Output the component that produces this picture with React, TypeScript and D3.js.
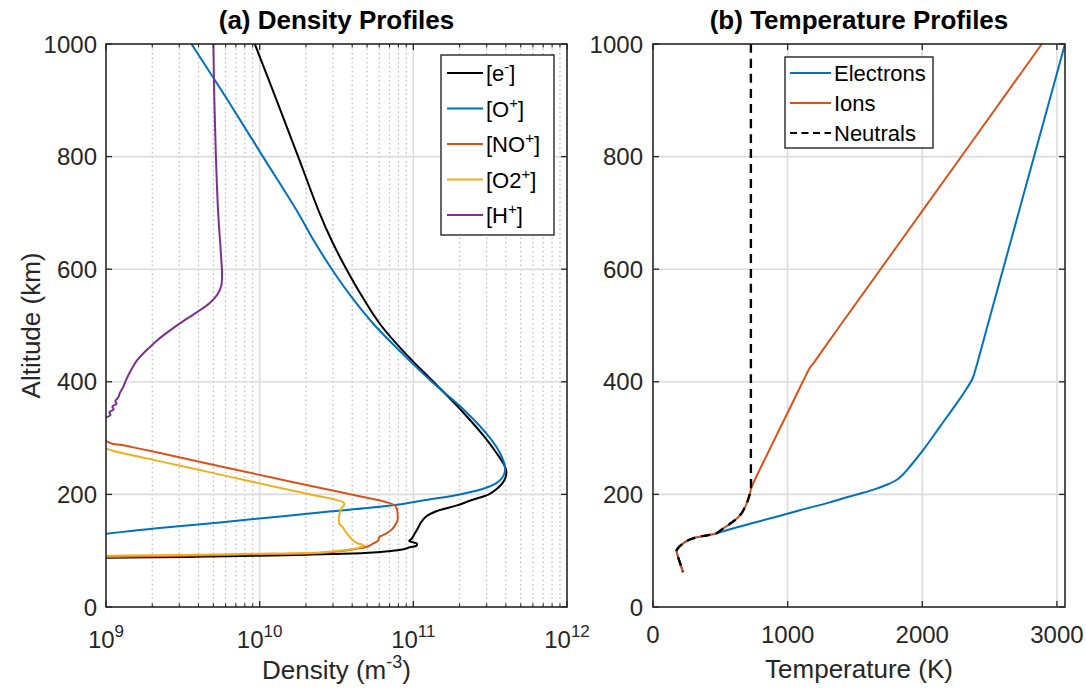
import React from 'react';
import * as d3 from 'd3';

// ---------- tick values ----------
const densityTicks = [1e9, 1e10, 1e11, 1e12];
const densityTickExp = ['9', '10', '11', '12'];
const altitudeTicks = [0, 200, 400, 600, 800, 1000];
const temperatureTicks = [0, 1000, 2000, 3000];

// ---------- (a) density profiles: altitude (km) / density (m^-3) ----------
const eAlt = [1000, 900, 800, 700, 650, 600, 550, 500, 450, 400, 350, 300, 270, 250, 240, 230, 220, 210, 200, 190, 180, 170, 160, 150, 140, 130, 122, 117, 113, 109, 106, 102, 99, 96, 93, 91, 89, 87.5];
const eDen = [9.3e9, 1.29e10, 1.78e10, 2.45e10, 2.95e10, 3.67e10, 4.68e10, 6.17e10, 8.9e10, 1.35e11, 2.04e11, 2.95e11, 3.55e11, 3.94e11, 4.03e11, 3.98e11, 3.8e11, 3.5e11, 3.1e11, 2.4e11, 1.9e11, 1.41e11, 1.2e11, 1.12e11, 1.07e11, 1.02e11, 9.8e10, 9.4e10, 1.05e11, 1.05e11, 9.5e10, 8.5e10, 6.9e10, 4.8e10, 2.0e10, 1.0e10, 3.5e9, 1.0e9];

const oAlt = [1000, 900, 800, 700, 650, 600, 550, 500, 450, 400, 350, 300, 270, 250, 240, 230, 220, 210, 200, 190, 181, 170, 160, 150, 140, 135, 130];
const oDen = [3.6e9, 6.2e9, 1.05e10, 1.78e10, 2.26e10, 2.95e10, 3.98e10, 5.62e10, 8.5e10, 1.32e11, 2.14e11, 3.16e11, 3.72e11, 3.94e11, 3.94e11, 3.8e11, 3.47e11, 2.85e11, 2.0e11, 1.2e11, 7.6e10, 2.95e10, 1.26e10, 5.5e9, 2.14e9, 1.45e9, 1.0e9];

const noAlt = [295, 290, 287, 284, 270, 250, 230, 210, 195, 187, 182, 175, 165, 155, 145, 137, 130, 124, 118, 113, 108, 103, 99, 96, 93.5, 91, 89.5, 88.5];
const noDen = [1.0e9, 1.1e9, 1.32e9, 1.48e9, 2.57e9, 5.5e9, 1.2e10, 2.63e10, 4.8e10, 6.5e10, 7.4e10, 7.8e10, 7.9e10, 7.9e10, 7.6e10, 7.2e10, 6.6e10, 6.0e10, 5.9e10, 5.5e10, 5.1e10, 4.2e10, 3.3e10, 2.4e10, 8.9e9, 3.2e9, 1.6e9, 1.0e9];

const o2Alt = [281, 279, 277, 260, 240, 220, 200, 190, 186, 182, 175, 165, 155, 148, 142, 135, 128, 120, 114, 109, 104, 100, 97, 94.5, 92.5, 91];
const o2Den = [1.0e9, 1.07e9, 1.12e9, 2.14e9, 4.6e9, 9.8e9, 2.14e10, 3.16e10, 3.5e10, 3.55e10, 3.4e10, 3.3e10, 3.27e10, 3.3e10, 3.47e10, 3.6e10, 3.76e10, 4.0e10, 4.27e10, 4.8e10, 4.2e10, 3.3e10, 2.5e10, 8.9e9, 3.2e9, 1.0e9];

const hAlt = [1000, 900, 800, 700, 620, 590, 570, 555, 540, 525, 510, 490, 474, 455, 439, 420, 403, 390, 380, 372, 366, 361, 356, 351, 346, 341, 337];
const hDen = [5.0e9, 5.07e9, 5.19e9, 5.37e9, 5.62e9, 5.69e9, 5.62e9, 5.31e9, 4.73e9, 3.98e9, 3.27e9, 2.57e9, 2.16e9, 1.82e9, 1.6e9, 1.45e9, 1.35e9, 1.29e9, 1.23e9, 1.2e9, 1.15e9, 1.17e9, 1.1e9, 1.12e9, 1.05e9, 1.07e9, 1.0e9];

// ---------- (b) temperature profiles: altitude (km) / temperature (K) ----------
const neutralAlt = [1000, 800, 600, 400, 250, 210, 204, 198, 190, 182, 175, 168, 163, 157, 150, 145, 140, 135, 131, 129, 127, 125, 122, 119, 116, 113, 110, 107, 104, 101, 98, 94, 89, 80, 70, 62];
const neutralTemp = [727, 727, 727, 727, 727, 727, 723, 716, 705, 692, 678, 662, 646, 622, 585, 555, 525, 495, 473, 440, 395, 349, 300, 265, 243, 225, 208, 194, 184, 176, 176, 180, 186, 198, 212, 223];

const ionAlt = [1000, 700, 500, 450, 435, 426, 415, 400, 350, 300, 250, 220, 210, 204, 198, 190, 182, 175, 168, 163, 157, 150, 145, 140, 135, 131, 129, 127, 125, 122, 119, 116, 113, 110, 107, 104, 101, 98, 94, 89, 80, 70, 62];
const ionTemp = [2888, 1990, 1390, 1242, 1198, 1168, 1143, 1112, 1010, 907, 805, 745, 727, 723, 716, 705, 692, 678, 662, 646, 622, 585, 555, 525, 495, 473, 440, 395, 349, 300, 265, 243, 225, 208, 194, 184, 176, 176, 180, 186, 198, 212, 223];

const electronAlt = [1000, 800, 600, 500, 450, 420, 405, 390, 360, 320, 280, 250, 235, 226, 218, 208, 195, 185, 172, 160, 150, 140, 134, 131, 129, 127, 125, 122, 119, 116, 113, 110, 107, 104, 101, 98, 94, 89, 80, 70, 62];
const electronTemp = [3060, 2830, 2600, 2485, 2428, 2393, 2372, 2335, 2250, 2130, 2010, 1910, 1855, 1811, 1745, 1633, 1440, 1300, 1091, 910, 755, 600, 515, 473, 440, 395, 349, 300, 265, 243, 225, 208, 194, 184, 176, 176, 180, 186, 198, 212, 223];

const FONT = '"Liberation Sans", Arial, Helvetica, sans-serif';
const AX = '#262626';
const C_BLUE = '#0072BD';
const C_ORANGE = '#D95319';
const C_YELLOW = '#EDB120';
const C_PURPLE = '#7E2F8E';

type Pt = { a: number; v: number };
const zipPts = (alt: number[], val: number[]): Pt[] => alt.map((a, i) => ({ a, v: val[i] }));

export default function App() {
  const W = 1086, H = 689;
  const top = 44, bottom = 607;
  const y = d3.scaleLinear().domain([0, 1000]).range([bottom, top]);
  const xL = d3.scaleLog().domain([1e9, 1e12]).range([106, 567]);
  const xR = d3.scaleLinear().domain([0, 3060]).range([653, 1065]);

  const lineL = d3.line<Pt>().x(d => xL(d.v)).y(d => y(d.a)).curve(d3.curveCatmullRom.alpha(0.5));
  const lineR = d3.line<Pt>().x(d => xR(d.v)).y(d => y(d.a)).curve(d3.curveCatmullRom.alpha(0.5));

  const minorL: number[] = [];
  for (let e = 9; e < 12; e++) for (let k = 2; k <= 9; k++) minorL.push(k * Math.pow(10, e));

  const densSeries = [
    { alt: eAlt, val: eDen, color: '#000000' },
    { alt: oAlt, val: oDen, color: C_BLUE },
    { alt: noAlt, val: noDen, color: C_ORANGE },
    { alt: o2Alt, val: o2Den, color: C_YELLOW },
    { alt: hAlt, val: hDen, color: C_PURPLE },
  ];
  const legendL = [
    { base: '[e', sup: '-', color: '#000000' },
    { base: '[O', sup: '+', color: C_BLUE },
    { base: '[NO', sup: '+', color: C_ORANGE },
    { base: '[O2', sup: '+', color: C_YELLOW },
    { base: '[H', sup: '+', color: C_PURPLE },
  ];
  const tempSeries = [
    { alt: electronAlt, val: electronTemp, color: C_BLUE, dash: undefined as string | undefined, w: 2 },
    { alt: ionAlt, val: ionTemp, color: C_ORANGE, dash: undefined as string | undefined, w: 2 },
    { alt: neutralAlt, val: neutralTemp, color: '#000000', dash: '9 6', w: 2.4 },
  ];
  const legendR = [
    { label: 'Electrons', color: C_BLUE, dash: undefined as string | undefined },
    { label: 'Ions', color: C_ORANGE, dash: undefined as string | undefined },
    { label: 'Neutrals', color: '#000000', dash: '7 4.5' },
  ];

  const [l0, l1] = xL.range();
  const [r0, r1] = xR.range();

  return (
    <svg width={W} height={H} style={{ position: 'absolute', left: 0, top: 0, display: 'block', background: '#fff' }} fontFamily={FONT}>
      <defs>
        <clipPath id="clipL"><rect x={l0} y={top} width={l1 - l0} height={bottom - top} /></clipPath>
        <clipPath id="clipR"><rect x={r0} y={top} width={r1 - r0} height={bottom - top} /></clipPath>
      </defs>

      {/* ---------- panel (a) ---------- */}
      <g>
        {minorL.map(v => (
          <line key={'mg' + v} x1={xL(v)} x2={xL(v)} y1={top} y2={bottom} stroke="#b8b8b8" strokeWidth={1.2} strokeDasharray="1.5 3" />
        ))}
        {densityTicks.slice(1, 3).map(v => (
          <line key={'gx' + v} x1={xL(v)} x2={xL(v)} y1={top} y2={bottom} stroke="#dcdcdc" strokeWidth={1.6} />
        ))}
        {altitudeTicks.slice(1, 5).map(v => (
          <line key={'gy' + v} x1={l0} x2={l1} y1={y(v)} y2={y(v)} stroke="#dcdcdc" strokeWidth={1.6} />
        ))}
        <g clipPath="url(#clipL)">
          {densSeries.map((s, i) => (
            <path key={i} d={lineL(zipPts(s.alt, s.val)) || ''} fill="none" stroke={s.color} strokeWidth={2} strokeLinejoin="round" />
          ))}
        </g>
        {/* ticks */}
        {densityTicks.map(v => (
          <g key={'tx' + v}>
            <line x1={xL(v)} x2={xL(v)} y1={bottom} y2={bottom - 6} stroke={AX} strokeWidth={1.3} />
            <line x1={xL(v)} x2={xL(v)} y1={top} y2={top + 6} stroke={AX} strokeWidth={1.3} />
          </g>
        ))}
        {minorL.map(v => (
          <g key={'mt' + v}>
            <line x1={xL(v)} x2={xL(v)} y1={bottom} y2={bottom - 3.5} stroke={AX} strokeWidth={1.1} />
            <line x1={xL(v)} x2={xL(v)} y1={top} y2={top + 3.5} stroke={AX} strokeWidth={1.1} />
          </g>
        ))}
        {altitudeTicks.map(v => (
          <g key={'ty' + v}>
            <line x1={l0} x2={l0 + 6} y1={y(v)} y2={y(v)} stroke={AX} strokeWidth={1.3} />
            <line x1={l1} x2={l1 - 6} y1={y(v)} y2={y(v)} stroke={AX} strokeWidth={1.3} />
            <text x={97} y={y(v) + 8.5} textAnchor="end" fontSize={24} fill={AX}>{v}</text>
          </g>
        ))}
        {densityTicks.map((v, i) => (
          <text key={'lx' + v} x={xL(v)} y={648} textAnchor="middle" fontSize={24} fill={AX}>
            10<tspan dy={-11} fontSize={17}>{densityTickExp[i]}</tspan>
          </text>
        ))}
        <rect x={l0} y={top} width={l1 - l0} height={bottom - top} fill="none" stroke={AX} strokeWidth={1.6} />
        <text x={(l0 + l1) / 2} y={29} textAnchor="middle" fontSize={26} fontWeight="bold" fill="#000">(a) Density Profiles</text>
        <text x={(l0 + l1) / 2} y={679} textAnchor="middle" fontSize={26} fill={AX}>
          Density (m<tspan dy={-11} fontSize={18}>-3</tspan><tspan dy={11}>)</tspan>
        </text>
        <text transform={`translate(40,${(top + bottom) / 2}) rotate(-90)`} textAnchor="middle" fontSize={26} fill={AX}>Altitude (km)</text>

        {/* legend */}
        <rect x={441} y={55} width={113} height={180} fill="#fff" stroke={AX} strokeWidth={1.4} />
        {legendL.map((e, i) => {
          const cy = 73 + i * 35.5;
          return (
            <g key={'lg' + i}>
              <line x1={447} x2={483} y1={cy} y2={cy} stroke={e.color} strokeWidth={2} />
              <text x={486} y={cy + 8} fontSize={22} fill="#000">
                {e.base}<tspan dy={-9} fontSize={15}>{e.sup}</tspan><tspan dy={9}>]</tspan>
              </text>
            </g>
          );
        })}
      </g>

      {/* ---------- panel (b) ---------- */}
      <g>
        {temperatureTicks.slice(1).map(v => (
          <line key={'gxr' + v} x1={xR(v)} x2={xR(v)} y1={top} y2={bottom} stroke="#dcdcdc" strokeWidth={1.6} />
        ))}
        {altitudeTicks.slice(1, 5).map(v => (
          <line key={'gyr' + v} x1={r0} x2={r1} y1={y(v)} y2={y(v)} stroke="#dcdcdc" strokeWidth={1.6} />
        ))}
        <g clipPath="url(#clipR)">
          {tempSeries.map((s, i) => (
            <path key={i} d={lineR(zipPts(s.alt, s.val)) || ''} fill="none" stroke={s.color} strokeWidth={s.w} strokeDasharray={s.dash} strokeLinejoin="round" />
          ))}
        </g>
        {temperatureTicks.map(v => (
          <g key={'txr' + v}>
            <line x1={xR(v)} x2={xR(v)} y1={bottom} y2={bottom - 6} stroke={AX} strokeWidth={1.3} />
            <line x1={xR(v)} x2={xR(v)} y1={top} y2={top + 6} stroke={AX} strokeWidth={1.3} />
            <text x={xR(v)} y={643} textAnchor="middle" fontSize={24} fill={AX}>{v}</text>
          </g>
        ))}
        {altitudeTicks.map(v => (
          <g key={'tyr' + v}>
            <line x1={r0} x2={r0 + 6} y1={y(v)} y2={y(v)} stroke={AX} strokeWidth={1.3} />
            <line x1={r1} x2={r1 - 6} y1={y(v)} y2={y(v)} stroke={AX} strokeWidth={1.3} />
            <text x={643} y={y(v) + 8.5} textAnchor="end" fontSize={24} fill={AX}>{v}</text>
          </g>
        ))}
        <rect x={r0} y={top} width={r1 - r0} height={bottom - top} fill="none" stroke={AX} strokeWidth={1.6} />
        <text x={(r0 + r1) / 2} y={29} textAnchor="middle" fontSize={26} fontWeight="bold" fill="#000">(b) Temperature Profiles</text>
        <text x={(r0 + r1) / 2} y={678} textAnchor="middle" fontSize={26} fill={AX}>Temperature (K)</text>

        <rect x={785} y={57} width={148} height={91} fill="#fff" stroke={AX} strokeWidth={1.4} />
        {legendR.map((e, i) => {
          const cy = 73 + i * 30;
          return (
            <g key={'lr' + i}>
              <line x1={790} x2={831} y1={cy} y2={cy} stroke={e.color} strokeWidth={2} strokeDasharray={e.dash} />
              <text x={834} y={cy + 8} fontSize={22} fill="#000">{e.label}</text>
            </g>
          );
        })}
      </g>
    </svg>
  );
}
